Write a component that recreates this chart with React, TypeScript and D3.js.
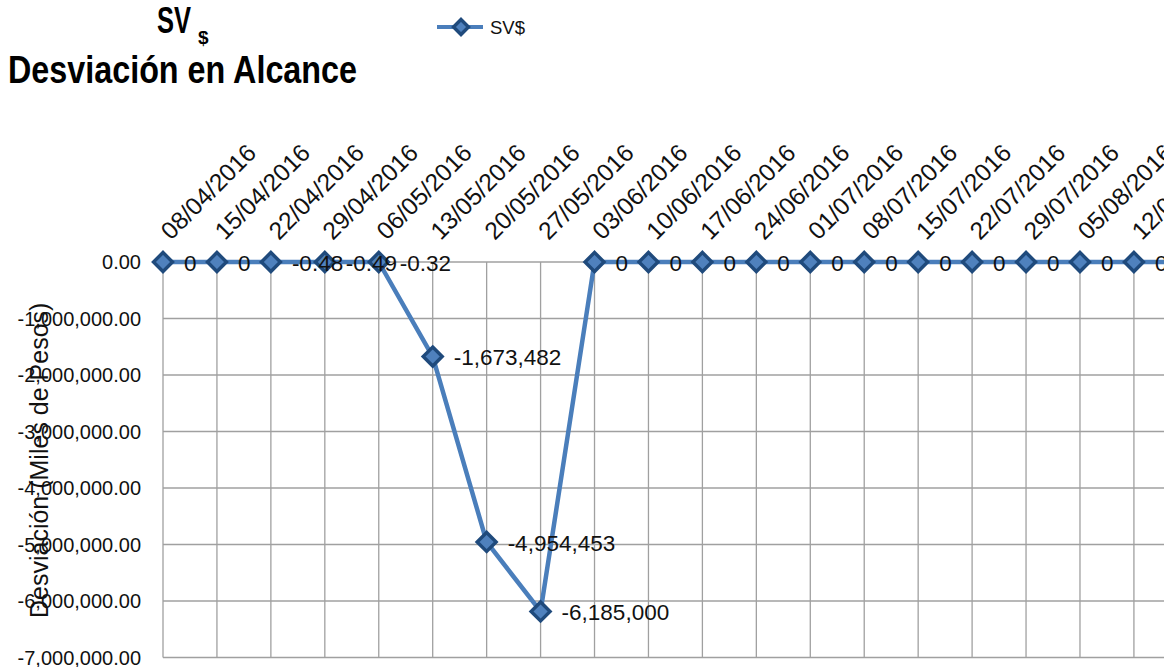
import React from "react";
import * as d3 from "d3";

const categories = [
  "08/04/2016", "15/04/2016", "22/04/2016", "29/04/2016", "06/05/2016",
  "13/05/2016", "20/05/2016", "27/05/2016", "03/06/2016", "10/06/2016",
  "17/06/2016", "24/06/2016", "01/07/2016", "08/07/2016", "15/07/2016",
  "22/07/2016", "29/07/2016", "05/08/2016", "12/08/2016", "19/08/2016",
];
const svValues = [
  0, 0, -0.48, -0.49, -0.32,
  -1673482, -4954453, -6185000, 0, 0,
  0, 0, 0, 0, 0,
  0, 0, 0, 0, 0,
];
const yTicks = [0, -1000000, -2000000, -3000000, -4000000, -5000000, -6000000, -7000000];
const seriesName = "SV$";
const titleMain = "SV";
const titleSub = "$";
const titleLine2 = "Desviación en Alcance";
const yAxisTitle = "Desviación (Miles de Pesos)";

const W = 1164;
const H = 667;
const LINE = "#4A7EBB";
const MK_STROKE = "#1F4A7C";
const MK_FILL = "#4F81BD";
const GRID = "#A0A0A0";
const FONT = "'Liberation Sans', Arial, sans-serif";

const loc = d3.formatLocale({
  decimal: ".",
  thousands: ",",
  grouping: [3],
  currency: ["$", ""],
  minus: "-",
});
const fmtTick = loc.format(",.2f");
const fmtInt = loc.format(",.0f");
const fmtLabel = (v: number) => (Number.isInteger(v) ? fmtInt(v) : String(v));

function Diamond({ x, y, r }: { x: number; y: number; r: number }) {
  const p = `M${x},${y - r}L${x + r},${y}L${x},${y + r}L${x - r},${y}Z`;
  return <path d={p} fill={MK_FILL} stroke={MK_STROKE} strokeWidth={3.4} strokeLinejoin="miter" />;
}

export default function App() {
  const x0 = 163;
  const step = 53.94;
  const xScale = d3
    .scalePoint<string>()
    .domain(categories)
    .range([x0, x0 + step * (categories.length - 1)])
    .padding(0);
  const yScale = d3.scaleLinear().domain([-7000000, 0]).range([657.5, 262]);

  const line = d3
    .line<number>()
    .x((_, i) => xScale(categories[i]) as number)
    .y((d) => yScale(d));

  const plotLeft = x0;
  const plotRight = W + 40;
  const yTop = yScale(0);
  const yBot = yScale(-7000000);

  return (
    <svg
      width={W}
      height={H}
      style={{ position: "absolute", left: 0, top: 0, background: "#fff" }}
      fontFamily={FONT}
    >
      <rect x={0} y={0} width={W} height={H} fill="#fff" />
      {/* Title */}
      <text x={157} y={33} fontSize={36} fontWeight="bold" fill="#000" textLength={34} lengthAdjust="spacingAndGlyphs">
        {titleMain}
      </text>
      <text x={198} y={44} fontSize={19} fontWeight="bold" fill="#000">
        {titleSub}
      </text>
      <text x={8} y={83} fontSize={38} fontWeight="bold" fill="#000" textLength={349} lengthAdjust="spacingAndGlyphs">
        {titleLine2}
      </text>

      {/* Legend */}
      <line x1={437} x2={483} y1={27} y2={27} stroke={LINE} strokeWidth={4} />
      <Diamond x={461} y={27} r={7.5} />
      <text x={490} y={34} fontSize={18} fill="#111" textLength={35} lengthAdjust="spacingAndGlyphs">
        {seriesName}
      </text>

      {/* Gridlines */}
      {yTicks.map((t) => (
        <line key={"h" + t} x1={plotLeft} x2={plotRight} y1={yScale(t)} y2={yScale(t)} stroke={GRID} strokeWidth={1.3} />
      ))}
      {categories.map((c) => (
        <line key={"v" + c} x1={xScale(c)} x2={xScale(c)} y1={yTop} y2={yBot} stroke={GRID} strokeWidth={1.3} />
      ))}

      {/* Y tick labels */}
      {yTicks.map((t) => (
        <text key={"yt" + t} x={141} y={yScale(t)} dy="0.35em" textAnchor="end" fontSize={20} fill="#111">
          {fmtTick(t)}
        </text>
      ))}

      {/* Y axis title */}
      <text
        transform={`translate(48,618) rotate(-90)`}
        fontSize={25}
        fill="#111"
        textAnchor="start"
      >
        {yAxisTitle}
      </text>

      {/* X tick labels */}
      {categories.map((c) => (
        <text
          key={"xt" + c}
          transform={`translate(${(xScale(c) as number) + 8},241) rotate(-45)`}
          fontSize={24.5}
          fill="#111"
          textAnchor="start"
        >
          {c}
        </text>
      ))}

      {/* Series line */}
      <path d={line(svValues) || ""} fill="none" stroke={LINE} strokeWidth={4.5} strokeLinejoin="round" />

      {/* Markers */}
      {svValues.map((v, i) => (
        <Diamond key={"m" + i} x={xScale(categories[i]) as number} y={yScale(v)} r={9.5} />
      ))}

      {/* Data labels */}
      {svValues.map((v, i) => (
        <text
          key={"dl" + i}
          x={(xScale(categories[i]) as number) + 21}
          y={yScale(v) + 1}
          dy="0.35em"
          fontSize={22.5}
          fill="#111"
        >
          {fmtLabel(v)}
        </text>
      ))}
    </svg>
  );
}
